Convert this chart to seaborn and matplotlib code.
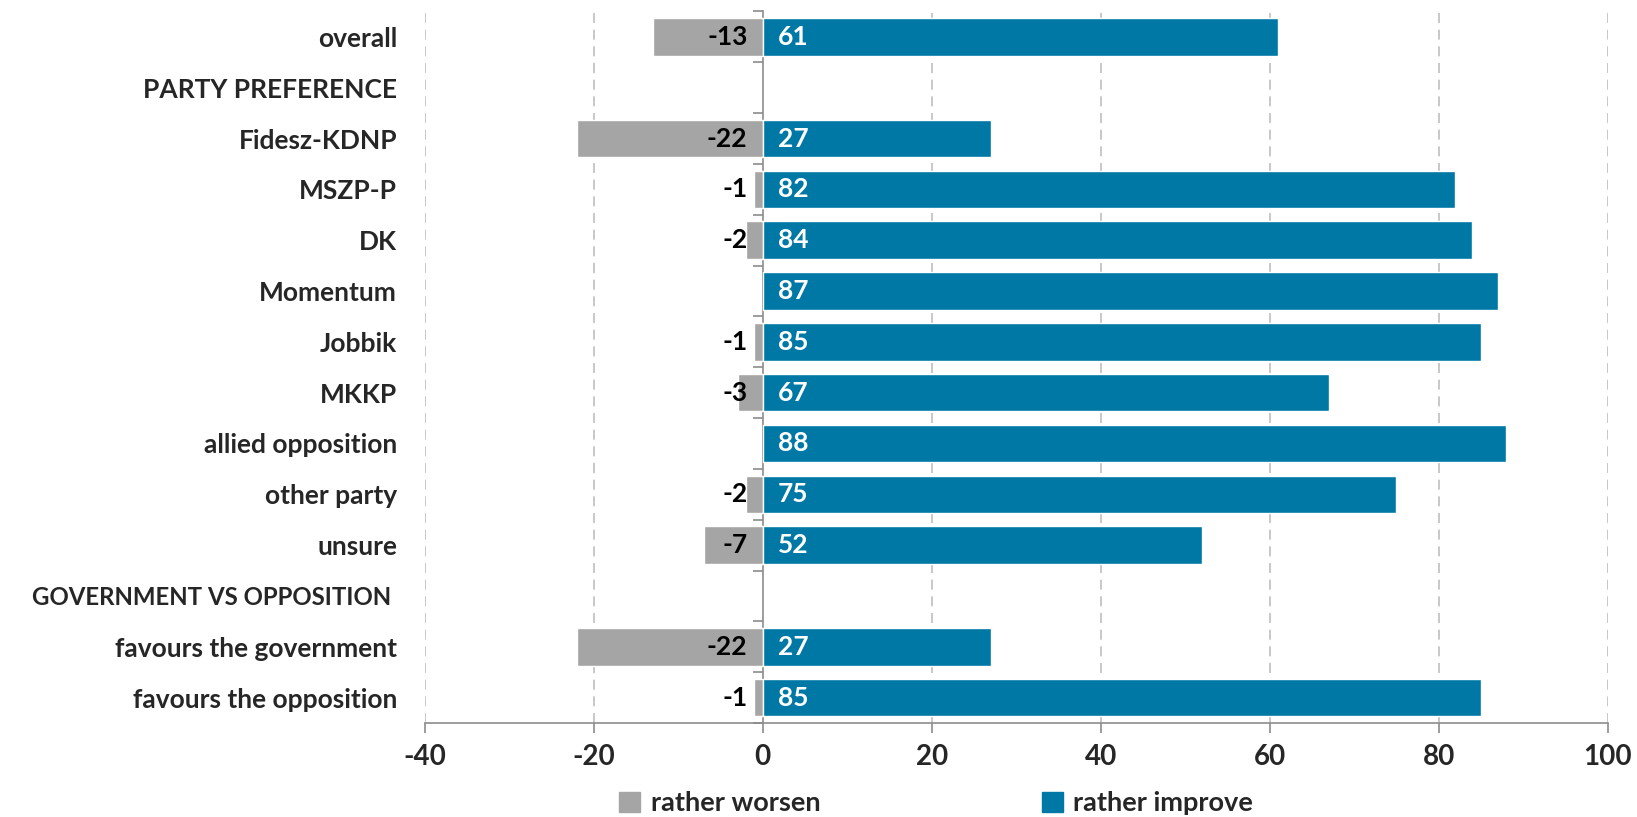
import numpy as np
import pandas as pd
import matplotlib
matplotlib.use("Agg")
import matplotlib.pyplot as plt
import seaborn as sns
from matplotlib.patches import Patch

categories = ["overall", "PARTY PREFERENCE", "Fidesz-KDNP", "MSZP-P", "DK", "Momentum",
              "Jobbik", "MKKP", "allied opposition", "other party", "unsure",
              "GOVERNMENT VS OPPOSITION ", "favours the government", "favours the opposition"]
worsen = [-13, np.nan, -22, -1, -2, np.nan, -1, -3, np.nan, -2, -7, np.nan, -22, -1]
improve = [61, np.nan, 27, 82, 84, 87, 85, 67, 88, 75, 52, np.nan, 27, 85]
xticks = [-40, -20, 0, 20, 40, 60, 80, 100]
series_names = ["rather worsen", "rather improve"]

GRAY = "#A5A5A5"
BLUE = "#0078A6"

sns.set_theme(style="white")
plt.rcParams["font.family"] = ["Lato", "DejaVu Sans"]
plt.rcParams["font.weight"] = "bold"

df = pd.DataFrame({"category": categories, "worsen": worsen, "improve": improve})

fig = plt.figure(figsize=(16.37, 8.17), dpi=100)
ax = fig.add_axes([0.2596, 0.115, 0.982 - 0.2596, 0.986 - 0.115])

sns.barplot(data=df, x="worsen", y="category", color=GRAY, width=0.74, ax=ax,
            orient="h", order=categories, saturation=1)
sns.barplot(data=df, x="improve", y="category", color=BLUE, width=0.74, ax=ax,
            orient="h", order=categories, saturation=1)

ax.set_xlim(-40, 100)
ax.set_ylim(len(categories) - 0.5, -0.5)
ax.set_xlabel("")
ax.set_ylabel("")
ax.set_xticks(xticks)
ax.set_xticklabels([str(t) for t in xticks], fontsize=20, fontweight="bold")
ax.tick_params(axis="x", length=7, width=1.2, color="#8C8C8C", pad=8, direction="out", bottom=True)
ax.tick_params(axis="y", length=0, pad=20, labelsize=19)
for lab in ax.get_yticklabels():
    lab.set_fontweight("bold")
    if lab.get_text().startswith("GOVERNMENT"):
        lab.set_fontsize(17.3)

for s in ["top", "right", "left"]:
    ax.spines[s].set_visible(False)
ax.spines["bottom"].set_color("#8C8C8C")
ax.spines["bottom"].set_linewidth(1.2)

for t in xticks:
    if t != 0:
        ax.axvline(t, color="#BFBFBF", linestyle=(0, (6, 4)), linewidth=1.2, zorder=0)

# vertical axis at zero with boundary ticks
sec = ax.secondary_yaxis(40 / 140)
sec.set_yticks(np.arange(-0.5, len(categories), 1.0))
sec.set_yticklabels([])
sec.tick_params(axis="y", length=7, width=1.2, color="#8C8C8C", direction="out")
sec.spines["left"].set_color("#8C8C8C")
sec.spines["left"].set_linewidth(1.2)
for s in ["right", "top", "bottom"]:
    sec.spines[s].set_visible(False)

for i, (w, v) in enumerate(zip(worsen, improve)):
    if not np.isnan(w):
        ax.annotate(f"{w:g}", xy=(0, i), xytext=(-11, 0), textcoords="offset points",
                    ha="right", va="center", fontsize=19, fontweight="bold", color="black")
    if not np.isnan(v):
        ax.annotate(f"{v:g}", xy=(0, i), xytext=(11, 0), textcoords="offset points",
                    ha="left", va="center", fontsize=19, fontweight="bold", color="white")

handles = [Patch(color=GRAY), Patch(color=BLUE)]
fig.legend(handles, series_names, loc="center", bbox_to_anchor=(0.572, 0.017), ncol=2,
           frameon=False, prop={"size": 19.5, "weight": "bold"}, handlelength=0.75,
           handleheight=0.75, handletextpad=0.4, columnspacing=8.2)

fig.savefig("out.png", dpi=100)
